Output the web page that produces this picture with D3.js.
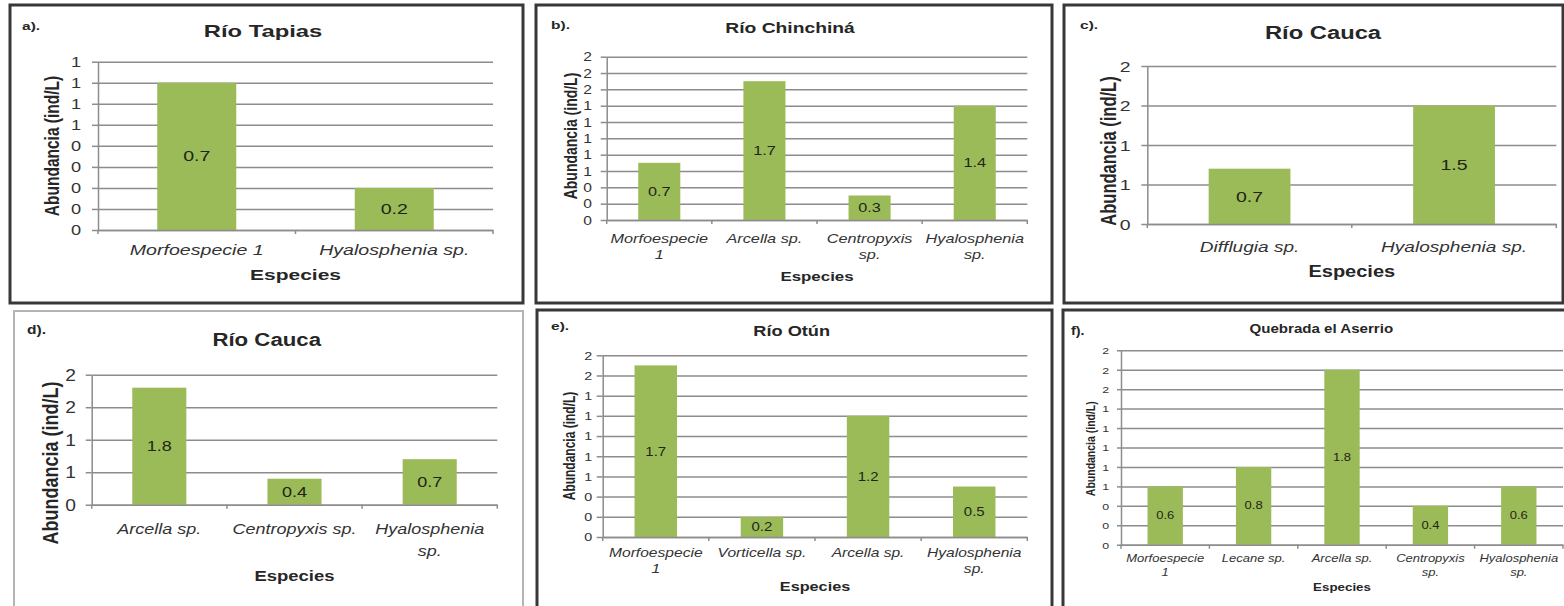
<!DOCTYPE html>
<html>
<head>
<meta charset="utf-8">
<script src="https://cdn.jsdelivr.net/npm/d3@7"></script>
<style>
  html, body { margin: 0; padding: 0; background: #fff; }
  svg { display: block; }
</style>
</head>
<body>
<svg id="chart" width="1564" height="606"></svg>
<script>
// ---- Data ---------------------------------------------------------------
const panelTags   = ["a).", "b).", "c).", "d).", "e).", "f)."];
const panelTitles = ["Río Tapias", "Río Chinchiná", "Río Cauca", "Río Cauca", "Río Otún", "Quebrada el Aserrio"];
const yAxisTitle  = "Abundancia (ind/L)";
const xAxisTitle  = "Especies";

const catsA = ["Morfoespecie 1", "Hyalosphenia sp."];
const valsA = [0.7, 0.2];
const tickLabelsA = ["0", "0", "0", "0", "0", "1", "1", "1", "1"];
const tickStepA = 0.1;

const catsB = ["Morfoespecie\n1", "Arcella sp.", "Centropyxis\nsp.", "Hyalosphenia\nsp."];
const valsB = [0.7, 1.7, 0.3, 1.4];
const tickLabelsB = ["0", "0", "0", "1", "1", "1", "1", "1", "2", "2", "2"];
const tickStepB = 0.2;

const catsC = ["Difflugia sp.", "Hyalosphenia sp."];
const valsC = [0.7, 1.5];
const tickLabelsC = ["0", "1", "1", "2", "2"];
const tickStepC = 0.5;

const catsD = ["Arcella sp.", "Centropyxis sp.", "Hyalosphenia\nsp."];
const valsD = [1.8, 0.4, 0.7];
const tickLabelsD = ["0", "1", "1", "2", "2"];
const tickStepD = 0.5;

const catsE = ["Morfoespecie\n1", "Vorticella sp.", "Arcella sp.", "Hyalosphenia\nsp."];
const valsE = [1.7, 0.2, 1.2, 0.5];
const tickLabelsE = ["0", "0", "0", "1", "1", "1", "1", "1", "2", "2"];
const tickStepE = 0.2;

const catsF = ["Morfoespecie\n1", "Lecane sp.", "Arcella sp.", "Centropyxis\nsp.", "Hyalosphenia\nsp."];
const valsF = [0.6, 0.8, 1.8, 0.4, 0.6];
const tickLabelsF = ["0", "0", "0", "1", "1", "1", "1", "1", "2", "2", "2"];
const tickStepF = 0.2;

// ---- Styling ------------------------------------------------------------
const FONT = "'Liberation Sans', Arial, Helvetica, sans-serif";
const BAR_COLOR = "#9BBB59";
const GRID_COLOR = "#8c8c8c";
const GRID_WIDTH = 1.5;
const DARK_FRAME = "#383838";
const LIGHT_FRAME = "#b4b4b4";
const TEXT = "#262626";

// ---- Panel layouts (pixel geometry for each small chart) --------------
const panels = [
  { tag: panelTags[0], title: panelTitles[0], cats: catsA, vals: valsA, ticks: tickLabelsA, step: tickStepA,
    box: [10, 5, 523, 303], frame: [DARK_FRAME, 3],
    tagPos: { x: 22, y: 30, size: 11.5, sx: 1.35 },
    titlePos: { x: 263, y: 37, size: 17, sx: 1.4 },
    plot: { l: 98, r: 493, t: 61.7, b: 230 },
    tick: { off: 17, size: 14, sx: 1.3, len: 6 },
    cat: { y: 255, size: 14, sx: 1.4, lh: 16 },
    xt: { y: 280, size: 15, sx: 1.4 },
    yt: { x: 59, cy: 146, size: 15.5, sx: 1.35 },
    dl: { size: 14, sx: 1.4 } },
  { tag: panelTags[1], title: panelTitles[1], cats: catsB, vals: valsB, ticks: tickLabelsB, step: tickStepB,
    box: [536, 5, 1052, 303], frame: [DARK_FRAME, 3],
    tagPos: { x: 551, y: 29, size: 11.5, sx: 1.35 },
    titlePos: { x: 790, y: 33, size: 14.5, sx: 1.33 },
    plot: { l: 606.7, r: 1027.3, t: 56.7, b: 220 },
    tick: { off: 14.7, size: 12, sx: 1.3, len: 6 },
    cat: { y: 242.5, size: 13, sx: 1.25, lh: 16.5 },
    xt: { y: 281, size: 13, sx: 1.3 },
    yt: { x: 576.5, cy: 136, size: 14, sx: 1.3 },
    dl: { size: 13, sx: 1.25 } },
  { tag: panelTags[2], title: panelTitles[2], cats: catsC, vals: valsC, ticks: tickLabelsC, step: tickStepC,
    box: [1064, 5, 1563, 303], frame: [DARK_FRAME, 3],
    tagPos: { x: 1080, y: 28.5, size: 11.5, sx: 1.35 },
    titlePos: { x: 1323, y: 39, size: 18, sx: 1.32 },
    plot: { l: 1147.3, r: 1556.3, t: 66, b: 224 },
    tick: { off: 16.6, size: 15, sx: 1.3, len: 6 },
    cat: { y: 252, size: 15, sx: 1.27, lh: 17 },
    xt: { y: 277, size: 16, sx: 1.25 },
    yt: { x: 1115.7, cy: 151, size: 16.5, sx: 1.3 },
    dl: { size: 15, sx: 1.3 } },
  { tag: panelTags[3], title: panelTitles[3], cats: catsD, vals: valsD, ticks: tickLabelsD, step: tickStepD,
    box: [14, 311, 523, 614], frame: [LIGHT_FRAME, 2],
    tagPos: { x: 27, y: 334, size: 12, sx: 1.3 },
    titlePos: { x: 266.7, y: 345.5, size: 19, sx: 1.17 },
    plot: { l: 91.7, r: 497.3, t: 374.7, b: 504.7 },
    tick: { off: 15.7, size: 16, sx: 1.2, len: 6 },
    cat: { y: 534, size: 15, sx: 1.2, lh: 21.7 },
    xt: { y: 580.5, size: 15, sx: 1.23 },
    yt: { x: 57.7, cy: 463, size: 18, sx: 1.2 },
    dl: { size: 15, sx: 1.2 } },
  { tag: panelTags[4], title: panelTitles[4], cats: catsE, vals: valsE, ticks: tickLabelsE, step: tickStepE,
    box: [537, 310, 1052, 614], frame: [DARK_FRAME, 3],
    tagPos: { x: 551, y: 329.5, size: 11.5, sx: 1.35 },
    titlePos: { x: 791.7, y: 336.3, size: 14, sx: 1.3 },
    plot: { l: 602.7, r: 1027.3, t: 355.3, b: 537 },
    tick: { off: 10.4, size: 11, sx: 1.3, len: 6 },
    cat: { y: 556.7, size: 13, sx: 1.2, lh: 16 },
    xt: { y: 590.5, size: 13, sx: 1.25 },
    yt: { x: 575, cy: 446, size: 12, sx: 1.3 },
    dl: { size: 12.5, sx: 1.2 } },
  { tag: panelTags[5], title: panelTitles[5], cats: catsF, vals: valsF, ticks: tickLabelsF, step: tickStepF,
    box: [1063, 310, 1570, 614], frame: [DARK_FRAME, 3],
    tagPos: { x: 1071, y: 335.3, size: 12, sx: 1.2 },
    titlePos: { x: 1321.3, y: 332.7, size: 12, sx: 1.26 },
    plot: { l: 1121, r: 1563, t: 350.3, b: 544.7 },
    tick: { off: 12, size: 9.5, sx: 1.3, len: 4 },
    cat: { y: 562, size: 10, sx: 1.3, lh: 14 },
    xt: { y: 591.3, size: 10.5, sx: 1.27 },
    yt: { x: 1094.6, cy: 448.7, size: 10.5, sx: 1.3 },
    dl: { size: 10, sx: 1.3 } }
];

const svg = d3.select("#chart");
const fmtValue = d3.format(".1f");

// Horizontally widened text, optionally rotated and split on "\n".
function wideText(g, x, y, str, o) {
  const t = g.append("text")
    .attr("transform", `translate(${x},${y}) scale(${o.sx || 1},1)` + (o.rotate ? " rotate(-90)" : ""))
    .attr("text-anchor", o.anchor || "middle")
    .attr("font-family", FONT)
    .attr("font-size", o.size)
    .attr("font-weight", o.bold ? "bold" : "normal")
    .attr("font-style", o.italic ? "italic" : "normal")
    .attr("fill", o.fill || TEXT);
  if (o.dy) t.attr("dy", o.dy);
  str.split("\n").forEach((line, i) => {
    t.append("tspan").attr("x", 0).attr("dy", i ? o.lh : null).text(line);
  });
  return t;
}

function drawPanel(p) {
  const g = svg.append("g");
  const P = p.plot;

  // frame
  g.append("rect")
    .attr("x", p.box[0]).attr("y", p.box[1])
    .attr("width", p.box[2] - p.box[0]).attr("height", p.box[3] - p.box[1])
    .attr("fill", "none").attr("stroke", p.frame[0]).attr("stroke-width", p.frame[1]);

  const x = d3.scaleBand().domain(p.cats).range([P.l, P.r]).paddingInner(0.6).paddingOuter(0.3);
  const tickVals = p.ticks.map((_, i) => +(i * p.step).toFixed(4));
  const y = d3.scaleLinear().domain([0, tickVals[tickVals.length - 1]]).range([P.b, P.t]);

  // horizontal gridlines
  g.append("g")
    .attr("transform", `translate(${P.l},0)`)
    .call(d3.axisLeft(y).tickValues(tickVals).tickSize(-(P.r - P.l)).tickFormat(""))
    .call(a => {
      a.select(".domain").remove();
      a.selectAll("line").attr("stroke", GRID_COLOR).attr("stroke-width", GRID_WIDTH);
    });

  // bars
  g.selectAll("rect.bar")
    .data(p.vals)
    .join("rect")
    .attr("class", "bar")
    .attr("x", (d, i) => x(p.cats[i]))
    .attr("y", d => y(d))
    .attr("width", x.bandwidth())
    .attr("height", d => y(0) - y(d))
    .attr("fill", BAR_COLOR);

  // value axis with ticks and labels
  g.append("g")
    .attr("transform", `translate(${P.l},0)`)
    .call(d3.axisLeft(y).tickValues(tickVals).tickSize(p.tick.len).tickSizeOuter(0)
      .tickFormat((d, i) => p.ticks[i]))
    .call(a => {
      a.select(".domain").attr("stroke", GRID_COLOR).attr("stroke-width", GRID_WIDTH);
      a.selectAll(".tick line").attr("stroke", GRID_COLOR).attr("stroke-width", GRID_WIDTH);
      a.selectAll(".tick text")
        .attr("x", 0)
        .attr("dy", "0.35em")
        .attr("transform", `translate(${-p.tick.off},0) scale(${p.tick.sx},1)`)
        .attr("text-anchor", "end")
        .attr("font-family", FONT)
        .attr("font-size", p.tick.size)
        .attr("fill", "#333");
    });

  // category axis line and boundary tick marks
  g.append("g")
    .attr("transform", `translate(0,${P.b})`)
    .call(d3.axisBottom(x).tickSize(0).tickFormat(""))
    .call(a => a.select(".domain").attr("stroke", GRID_COLOR).attr("stroke-width", GRID_WIDTH));
  const gap = (x.step() - x.bandwidth()) / 2;
  const bounds = p.cats.map(c => x(c) - gap).concat([x(p.cats[p.cats.length - 1]) + x.bandwidth() + gap]);
  g.selectAll("line.cb")
    .data(bounds)
    .join("line")
    .attr("class", "cb")
    .attr("x1", d => d).attr("x2", d => d)
    .attr("y1", P.b).attr("y2", P.b + 4)
    .attr("stroke", GRID_COLOR).attr("stroke-width", GRID_WIDTH);

  // value labels centred in each bar
  p.vals.forEach((v, i) => {
    wideText(g, x(p.cats[i]) + x.bandwidth() / 2, (y(v) + y(0)) / 2, fmtValue(v),
      { size: p.dl.size, sx: p.dl.sx, dy: "0.35em", fill: "#1e2616" });
  });

  // category labels
  p.cats.forEach(c => {
    wideText(g, x(c) + x.bandwidth() / 2, p.cat.y, c,
      { size: p.cat.size, sx: p.cat.sx, italic: true, lh: p.cat.lh, fill: "#333" });
  });

  // axis titles
  wideText(g, (P.l + P.r) / 2, p.xt.y, xAxisTitle, { size: p.xt.size, sx: p.xt.sx, bold: true });
  wideText(g, p.yt.x, p.yt.cy, yAxisTitle, { size: p.yt.size, sx: p.yt.sx, bold: true, rotate: true });

  // chart title and panel tag
  wideText(g, p.titlePos.x, p.titlePos.y, p.title, { size: p.titlePos.size, sx: p.titlePos.sx, bold: true });
  wideText(g, p.tagPos.x, p.tagPos.y, p.tag, { size: p.tagPos.size, sx: p.tagPos.sx, bold: true, anchor: "start" });
}

panels.forEach(drawPanel);
</script>
</body>
</html>
